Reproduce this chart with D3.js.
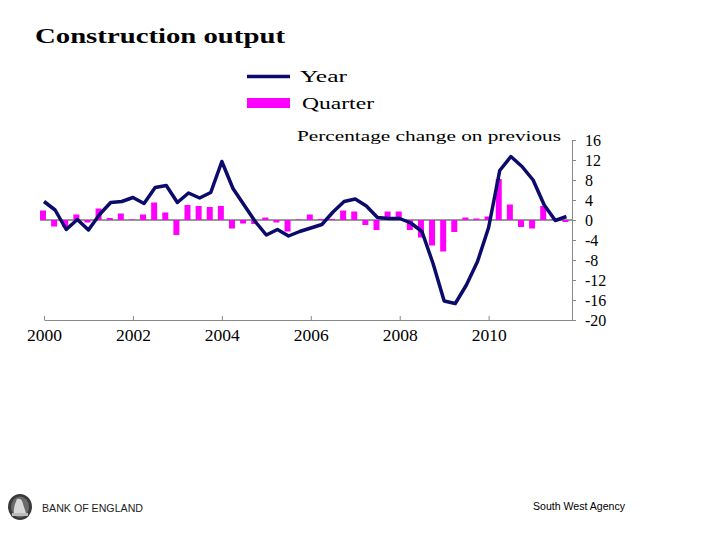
<!DOCTYPE html>
<html>
<head>
<meta charset="utf-8">
<script src="https://cdn.jsdelivr.net/npm/d3@7"></script>
<style>
  body { margin: 0; background: #fff; }
  svg { display: block; }
  .serif { font-family: "Liberation Serif", "Times New Roman", serif; fill: #000; }
</style>
</head>
<body>
<div id="chart"></div>
<script>
// Quarters 2000 Q1 - 2011 Q4
const quarters = d3.range(48).map(i => 2000 + i / 4);

// Quarterly % change (bars)
const quarterChange = [
  1.9, -1.3, -1.4, 1.1, -0.5, 2.3, 0.4, 1.3, 0.1, 1.1, 3.5, 1.5,
  -3.0, 3.0, 2.8, 2.6, 2.8, -1.7, -0.7, -0.8, 0.5, -0.5, -2.3, 0.1,
  1.1, 0.2, 0.2, 1.9, 1.7, -1.0, -2.0, 1.7, 1.7, -2.0, -3.5, -5.1,
  -6.3, -2.4, 0.5, 0.3, 0.7, 8.2, 3.1, -1.4, -1.7, 2.8, 0.2, -0.4
];

// Annual % change (line)
const yearChange = [
  3.7, 2.0, -1.9, 0.1, -2.0, 1.1, 3.5, 3.7, 4.5, 3.3, 6.5, 6.9,
  3.5, 5.4, 4.4, 5.5, 11.7, 6.3, 3.0, -0.3, -3.0, -1.9, -3.2, -2.3,
  -1.6, -0.9, 1.6, 3.7, 4.2, 2.8, 0.5, 0.3, 0.3, -0.6, -2.3, -8.7,
  -16.2, -16.7, -13.0, -8.3, -1.5, 9.9, 12.7, 10.7, 8.0, 3.0, -0.1, 0.7
];

const xTicks = [2000, 2002, 2004, 2006, 2008, 2010];
const yTicks = [16, 12, 8, 4, 0, -4, -8, -12, -16, -20];

const W = 720, H = 540;
const plot = { left: 44, right: 572, top: 140, bottom: 320 };

const svg = d3.select("#chart")
  .append("svg")
  .attr("width", W)
  .attr("height", H);

const x = d3.scaleLinear()
  .domain([2000, 2011.875])
  .range([plot.left, plot.right]);

const y = d3.scaleLinear()
  .domain([-20, 16])
  .range([plot.bottom, plot.top]);

// Title
svg.append("text")
  .attr("class", "serif")
  .attr("x", 35)
  .attr("y", 43)
  .attr("font-size", 21)
  .attr("font-weight", "bold")
  .attr("textLength", 250)
  .attr("lengthAdjust", "spacingAndGlyphs")
  .text("Construction output");

// Legend
svg.append("line")
  .attr("x1", 247).attr("x2", 290)
  .attr("y1", 76.5).attr("y2", 76.5)
  .attr("stroke", "#0b0b6b")
  .attr("stroke-width", 3.5);

svg.append("text")
  .attr("class", "serif")
  .attr("x", 300).attr("y", 82)
  .attr("font-size", 17)
  .attr("textLength", 47)
  .attr("lengthAdjust", "spacingAndGlyphs")
  .text("Year");

svg.append("rect")
  .attr("x", 247).attr("y", 98)
  .attr("width", 43).attr("height", 10)
  .attr("fill", "#ff00ff");

svg.append("text")
  .attr("class", "serif")
  .attr("x", 302).attr("y", 109)
  .attr("font-size", 17)
  .attr("textLength", 72)
  .attr("lengthAdjust", "spacingAndGlyphs")
  .text("Quarter");

svg.append("text")
  .attr("class", "serif")
  .attr("x", 297).attr("y", 141)
  .attr("font-size", 15)
  .attr("textLength", 264)
  .attr("lengthAdjust", "spacingAndGlyphs")
  .text("Percentage change on previous");

// Y axis (right)
const yAxis = svg.append("g")
  .attr("transform", `translate(${plot.right},0)`)
  .call(d3.axisRight(y)
    .tickValues(yTicks)
    .tickSize(4)
    .tickSizeOuter(0)
    .tickPadding(9)
    .tickFormat(d => d < 0 ? "-" + Math.abs(d) : d));

yAxis.select(".domain").attr("stroke", "#888");
yAxis.selectAll(".tick line").attr("stroke", "#888");
yAxis.selectAll("text")
  .attr("class", "serif")
  .attr("font-size", 16)
  .attr("fill", "#000");

// X axis (bottom)
const xAxis = svg.append("g")
  .attr("transform", `translate(0,${plot.bottom})`)
  .call(d3.axisBottom(x)
    .tickValues(xTicks)
    .tickSize(-4)
    .tickSizeOuter(0)
    .tickPadding(9)
    .tickFormat(d3.format("d")));

xAxis.select(".domain").attr("stroke", "#888");
xAxis.selectAll(".tick line").attr("stroke", "#888");
xAxis.selectAll("text")
  .attr("class", "serif")
  .attr("font-size", 17)
  .attr("fill", "#000")
  .attr("textLength", 35)
  .attr("lengthAdjust", "spacingAndGlyphs");

// Zero line
svg.append("line")
  .attr("x1", 40).attr("x2", plot.right)
  .attr("y1", y(0)).attr("y2", y(0))
  .attr("stroke", "#333")
  .attr("stroke-width", 1);

// Quarter bars
const barW = 6;
svg.selectAll(".bar")
  .data(quarters)
  .enter()
  .append("rect")
  .attr("class", "bar")
  .attr("x", (d, i) => x(d) - barW / 2 - 1)
  .attr("y", (d, i) => y(Math.max(0, quarterChange[i])))
  .attr("width", barW)
  .attr("height", (d, i) => Math.abs(y(quarterChange[i]) - y(0)))
  .attr("fill", "#ff00ff");

// Year line
const line = d3.line()
  .x((d, i) => x(d))
  .y((d, i) => y(yearChange[i]));

svg.append("path")
  .datum(quarters)
  .attr("d", line)
  .attr("fill", "none")
  .attr("stroke", "#0b0b6b")
  .attr("stroke-width", 3.5)
  .attr("stroke-linejoin", "round");

// Footer: logo and agency
const logo = svg.append("g").attr("transform", "translate(20,507)");
logo.append("ellipse").attr("rx", 12).attr("ry", 13).attr("fill", "#3a3a3a");
logo.append("ellipse").attr("rx", 9).attr("ry", 10.5).attr("fill", "#6a6a6a");
logo.append("path")
  .attr("d", "M-3,-8 Q2,-9 3,-3 L6,6 L-6,7 Q-7,0 -3,-8 Z")
  .attr("fill", "#d8d8d8");
logo.append("rect").attr("x", -8).attr("y", 6).attr("width", 16).attr("height", 3).attr("fill", "#bbb");

svg.append("text")
  .attr("x", 42).attr("y", 512)
  .attr("font-family", "'Liberation Sans', Arial, sans-serif")
  .attr("font-size", 11)
  .attr("fill", "#222")
  .attr("textLength", 101)
  .attr("lengthAdjust", "spacingAndGlyphs")
  .text("BANK OF ENGLAND");

svg.append("text")
  .attr("x", 533).attr("y", 510)
  .attr("font-family", "'Liberation Sans', Arial, sans-serif")
  .attr("font-size", 10)
  .attr("fill", "#000")
  .attr("textLength", 92)
  .attr("lengthAdjust", "spacingAndGlyphs")
  .text("South West Agency");
</script>
</body>
</html>
